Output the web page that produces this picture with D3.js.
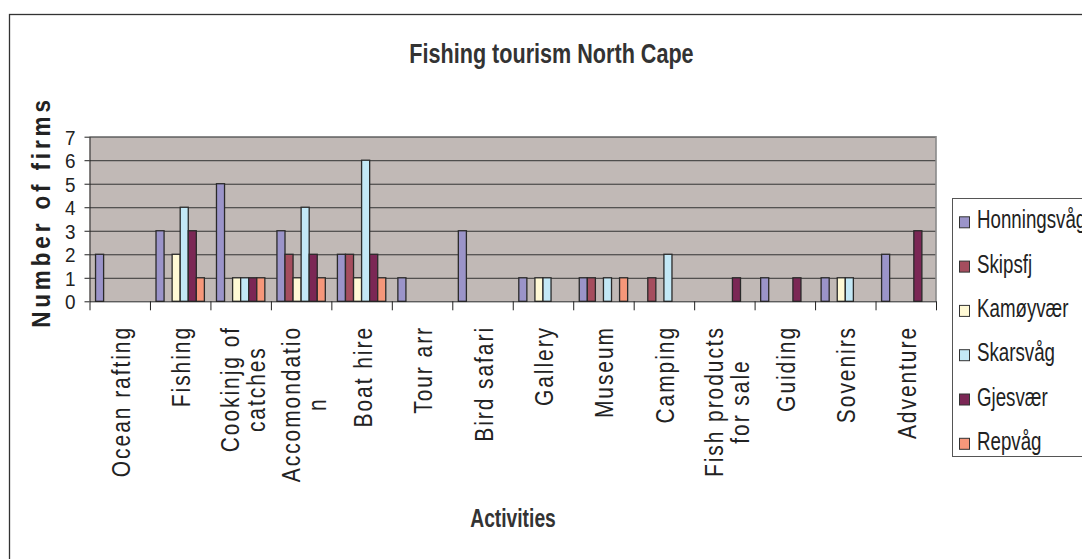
<!DOCTYPE html>
<html>
<head>
  <meta charset="UTF-8">
  <title>Fishing tourism North Cape</title>
  <script src="https://d3js.org/d3.v7.min.js"></script>
  <style>
    body { margin: 0; background: #fff; }
    text { font-family: "Liberation Sans", Arial, sans-serif; }
  </style>
</head>
<body>
  <script>

    // categories (line breaks as in the original labels)
    var categories = ["Ocean rafting", "Fishing", "Cookinjg of\ncatches", "Accomondatio\nn", "Boat hire",
      "Tour arr", "Bird safari", "Gallery", "Museum", "Camping", "Fish products\nfor sale",
      "Guiding", "Sovenirs", "Adventure"];

    var series = ["Honningsvåg", "Skipsfj", "Kamøyvær", "Skarsvåg", "Gjesvær", "Repvåg"];
    var colors = ["#9b94c9", "#a54d5e", "#fff9d5", "#c3e8f6", "#7b2755", "#f6977a"];

    var honningsvag = [2, 3, 5, 3, 2, 1, 3, 1, 1, 0, 0, 1, 1, 2];
    var skipsfj     = [0, 0, 0, 2, 2, 0, 0, 0, 1, 1, 0, 0, 0, 0];
    var kamoyvaer   = [0, 2, 1, 1, 1, 0, 0, 1, 0, 0, 0, 0, 1, 0];
    var skarsvag    = [0, 4, 1, 4, 6, 0, 0, 1, 1, 2, 0, 0, 1, 0];
    var gjesvaer    = [0, 3, 1, 2, 2, 0, 0, 0, 0, 0, 1, 1, 0, 3];
    var repvag      = [0, 1, 1, 1, 1, 0, 0, 0, 1, 0, 0, 0, 0, 0];

    var yTicks = [0, 1, 2, 3, 4, 5, 6, 7];

    var values = [honningsvag, skipsfj, kamoyvaer, skarsvag, gjesvaer, repvag];

    var width = 1082, height = 559;
    var plot = { left: 89.5, right: 936, top: 136.7, bottom: 301.3 };

    var svg = d3.select("body")
      .append("svg")
      .attr("width", width)
      .attr("height", height);

    svg.append("rect").attr("width", width).attr("height", height).attr("fill", "#fff");

    // outer chart frame (right and bottom run off the picture)
    svg.append("rect")
      .attr("x", 9.5).attr("y", 14.5)
      .attr("width", 1100).attr("height", 600)
      .attr("fill", "none").attr("stroke", "#333").attr("stroke-width", 1.3);

    var x = d3.scaleBand().domain(d3.range(categories.length)).range([plot.left, plot.right]);
    var xs = d3.scaleBand().domain(series).range([0, x.bandwidth()]).paddingOuter(0.75);
    var xEdge = d3.scaleLinear().domain([0, categories.length]).range([plot.left, plot.right]);
    var y = d3.scaleLinear().domain([0, 7]).range([plot.bottom, plot.top]);

    // plot background
    svg.append("rect")
      .attr("x", plot.left).attr("y", plot.top)
      .attr("width", plot.right - plot.left).attr("height", plot.bottom - plot.top)
      .attr("fill", "#c1b9b6");

    // gridlines
    var grid = svg.append("g")
      .attr("transform", "translate(" + plot.left + ",0)")
      .call(d3.axisLeft(y).tickValues(yTicks.slice(1)).tickSize(-(plot.right - plot.left)).tickFormat(""));
    grid.select(".domain").remove();
    grid.selectAll("line").attr("stroke", "#333").attr("stroke-width", 1);

    // plot border top/right
    svg.append("path")
      .attr("d", "M" + plot.left + "," + plot.top + "H" + plot.right + "V" + plot.bottom)
      .attr("fill", "none").attr("stroke", "#8a8a8a").attr("stroke-width", 1.6);

    // bars
    var rows = [];
    series.forEach(function (s, si) {
      values[si].forEach(function (v, ci) {
        if (v > 0) rows.push({ series: s, color: colors[si], cat: ci, value: v });
      });
    });

    svg.append("g")
      .selectAll("rect")
      .data(rows)
      .enter()
      .append("rect")
      .attr("x", function (d) { return x(d.cat) + xs(d.series); })
      .attr("y", function (d) { return y(d.value); })
      .attr("width", xs.bandwidth())
      .attr("height", function (d) { return y(0) - y(d.value); })
      .attr("fill", function (d) { return d.color; })
      .attr("stroke", "#2a2a2a")
      .attr("stroke-width", 1.3);

    // y axis
    var yAxis = svg.append("g")
      .attr("transform", "translate(" + plot.left + ",0)")
      .call(d3.axisLeft(y).tickValues(yTicks).tickSize(5).tickSizeOuter(0).tickFormat(d3.format("d")));
    yAxis.selectAll("line, path").attr("stroke", "#222");
    yAxis.selectAll("text")
      .attr("x", null).attr("dy", "0.36em")
      .attr("transform", "translate(-14,0) scale(0.9,1)")
      .attr("font-size", "21px")
      .attr("font-family", "'Liberation Sans', Arial, sans-serif")
      .attr("fill", "#222");

    // x axis with ticks on category edges
    var xAxis = svg.append("g")
      .attr("transform", "translate(0," + plot.bottom + ")")
      .call(d3.axisBottom(xEdge).tickValues(d3.range(categories.length + 1)).tickSize(9).tickSizeOuter(0).tickFormat(""));
    xAxis.selectAll("line, path").attr("stroke", "#222");

    // category labels, rotated
    var lineGap = 26;
    categories.forEach(function (c, i) {
      var lines = c.split("\n");
      var cx = x(i) + x.bandwidth() / 2;
      var g = svg.append("g").attr("transform", "translate(" + cx + ",0)");
      lines.forEach(function (t, li) {
        var bx = lines.length === 1 ? 10 : -1.25 + li * lineGap;
        g.append("text")
          .attr("transform", "translate(" + bx + ",0) rotate(-90) scale(0.84,1)")
          .attr("text-anchor", "middle")
          .attr("font-size", "25px")
          .attr("letter-spacing", "2.3px")
          .attr("fill", "#222")
          .text(t);
      });
      var top = g.node().getBBox().y;
      g.attr("transform", "translate(" + cx + "," + (326 - top) + ")");
    });

    // y axis title
    svg.append("text")
      .attr("transform", "translate(50,212) rotate(-90) scale(0.9,1)")
      .attr("text-anchor", "middle")
      .attr("font-size", "25px")
      .attr("font-weight", "bold")
      .attr("letter-spacing", "4.3px")
      .attr("fill", "#222")
      .text("Number of firms");

    // chart title
    svg.append("text")
      .attr("transform", "translate(551.5,63) scale(0.8,1)")
      .attr("text-anchor", "middle")
      .attr("font-size", "27px")
      .attr("font-weight", "bold")
      .attr("fill", "#333")
      .text("Fishing tourism North Cape");

    // x axis title
    svg.append("text")
      .attr("transform", "translate(513,527) scale(0.77,1)")
      .attr("text-anchor", "middle")
      .attr("font-size", "25px")
      .attr("font-weight", "bold")
      .attr("fill", "#333")
      .text("Activities");

    // legend
    var legend = svg.append("g");
    legend.append("rect")
      .attr("x", 952.5).attr("y", 198.5)
      .attr("width", 200).attr("height", 258)
      .attr("fill", "#fff").attr("stroke", "#555").attr("stroke-width", 1);

    var item = legend.selectAll("g.item")
      .data(series)
      .enter()
      .append("g")
      .attr("class", "item")
      .attr("transform", function (d, i) { return "translate(959," + (228.3 + i * 44.3) + ")"; });

    item.append("rect")
      .attr("x", 0.5).attr("y", -11.5)
      .attr("width", 10).attr("height", 11)
      .attr("fill", function (d, i) { return colors[i]; })
      .attr("stroke", "#333").attr("stroke-width", 1);

    item.append("text")
      .attr("transform", "translate(18,0) scale(0.72,1)")
      .attr("font-size", "26px")
      .attr("fill", "#222")
      .text(function (d) { return d; });

  </script>
</body>
</html>
